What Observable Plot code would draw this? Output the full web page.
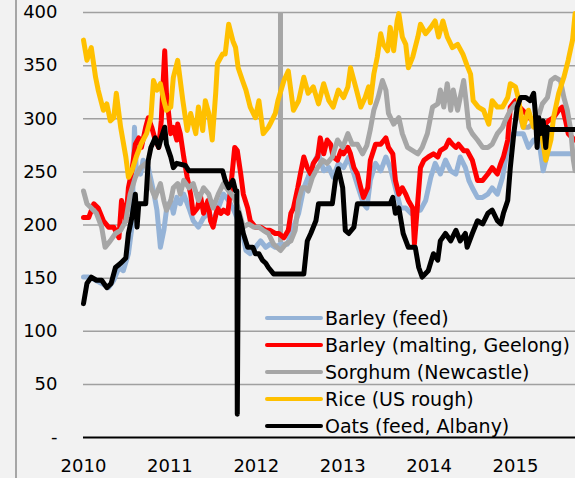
<!DOCTYPE html>
<html>
<head>
<meta charset="utf-8">
<script src="https://cdn.jsdelivr.net/npm/d3@7"></script>
<script src="https://cdn.jsdelivr.net/npm/@observablehq/plot@0.6"></script>
<style>
  html, body { margin: 0; padding: 0; background: #f2f2f2; }
  #chart { position: relative; width: 575px; height: 478px; overflow: hidden; background: #f2f2f2; }
  #chart svg { display: block; }
</style>
</head>
<body>
<div id="chart"></div>
<script>
// ---- Data (decimal year, price) ----
const yearTicks = [2010, 2011, 2012, 2013, 2014, 2015];
const valueTicks = [0, 50, 100, 150, 200, 250, 300, 350, 400];
const markerDate = 2012.28;
const markerRange = [183, 400];

const barleyFeed = [[2010.00,151],[2010.06,151],[2010.14,148],[2010.21,145],[2010.29,141],[2010.35,148],[2010.41,160],[2010.46,157],[2010.52,173],[2010.56,198],[2010.59,292],[2010.61,254],[2010.66,248],[2010.69,261],[2010.75,254],[2010.81,232],[2010.85,214],[2010.89,179],[2010.93,195],[2010.96,214],[2011.01,223],[2011.04,211],[2011.08,226],[2011.12,220],[2011.16,229],[2011.22,216],[2011.27,204],[2011.33,198],[2011.39,207],[2011.45,211],[2011.50,204],[2011.56,216],[2011.62,229],[2011.68,223],[2011.74,214],[2011.79,204],[2011.84,192],[2011.88,176],[2011.93,173],[2011.99,179],[2012.05,185],[2012.11,179],[2012.16,182],[2012.22,179],[2012.28,182],[2012.36,182],[2012.43,198],[2012.49,211],[2012.55,235],[2012.60,245],[2012.66,258],[2012.72,267],[2012.78,251],[2012.84,254],[2012.89,245],[2012.95,258],[2013.01,254],[2013.07,264],[2013.13,248],[2013.18,235],[2013.24,220],[2013.28,216],[2013.32,242],[2013.38,258],[2013.44,251],[2013.50,264],[2013.55,254],[2013.61,235],[2013.67,216],[2013.73,216],[2013.79,211],[2013.84,214],[2013.90,214],[2013.96,223],[2014.02,245],[2014.07,258],[2014.13,248],[2014.19,261],[2014.25,251],[2014.31,248],[2014.36,264],[2014.42,254],[2014.46,242],[2014.50,235],[2014.56,226],[2014.62,226],[2014.68,229],[2014.73,235],[2014.79,229],[2014.85,245],[2014.91,273],[2014.97,286],[2015.03,286],[2015.09,286],[2015.15,273],[2015.21,280],[2015.27,280],[2015.32,251],[2015.37,267],[2015.43,267],[2015.69,267]];

const barleyMalting = [[2010.00,207],[2010.06,207],[2010.12,220],[2010.17,216],[2010.23,204],[2010.29,198],[2010.35,198],[2010.41,188],[2010.44,223],[2010.49,204],[2010.52,235],[2010.56,251],[2010.60,276],[2010.64,282],[2010.67,273],[2010.72,292],[2010.75,301],[2010.79,292],[2010.83,280],[2010.87,273],[2010.90,298],[2010.94,364],[2010.96,324],[2011.01,286],[2011.04,292],[2011.08,280],[2011.09,295],[2011.12,286],[2011.16,264],[2011.20,245],[2011.24,229],[2011.27,211],[2011.32,216],[2011.35,229],[2011.39,211],[2011.44,223],[2011.47,204],[2011.50,198],[2011.55,216],[2011.59,211],[2011.62,214],[2011.67,211],[2011.70,232],[2011.75,273],[2011.78,270],[2011.82,248],[2011.85,229],[2011.90,216],[2011.93,204],[2011.99,198],[2012.05,198],[2012.11,195],[2012.16,195],[2012.22,192],[2012.26,192],[2012.32,188],[2012.37,195],[2012.40,211],[2012.43,216],[2012.48,235],[2012.51,248],[2012.55,264],[2012.59,254],[2012.63,248],[2012.66,258],[2012.71,264],[2012.74,282],[2012.78,267],[2012.82,280],[2012.86,276],[2012.89,264],[2012.94,261],[2012.98,270],[2013.01,267],[2013.06,273],[2013.09,267],[2013.13,254],[2013.17,248],[2013.21,235],[2013.24,226],[2013.29,235],[2013.32,261],[2013.38,276],[2013.44,276],[2013.50,282],[2013.53,273],[2013.58,267],[2013.61,242],[2013.65,229],[2013.69,235],[2013.73,229],[2013.76,223],[2013.81,216],[2013.83,182],[2013.87,223],[2013.90,254],[2013.94,261],[2013.99,264],[2014.05,267],[2014.10,264],[2014.13,270],[2014.19,273],[2014.23,280],[2014.27,276],[2014.31,273],[2014.34,276],[2014.40,270],[2014.44,270],[2014.50,261],[2014.56,242],[2014.62,242],[2014.68,248],[2014.73,254],[2014.79,248],[2014.83,258],[2014.86,264],[2014.91,280],[2014.94,311],[2015.00,317],[2015.06,310],[2015.12,305],[2015.17,300],[2015.23,300],[2015.31,292],[2015.38,298],[2015.44,301],[2015.50,308],[2015.54,311],[2015.58,298],[2015.61,286],[2015.66,282],[2015.69,280]];

const sorghum = [[2010.00,232],[2010.04,220],[2010.09,216],[2010.15,211],[2010.21,198],[2010.25,179],[2010.31,185],[2010.37,192],[2010.43,195],[2010.49,204],[2010.54,229],[2010.60,245],[2010.66,254],[2010.72,258],[2010.78,235],[2010.83,226],[2010.89,239],[2010.93,223],[2010.96,214],[2011.01,223],[2011.04,235],[2011.09,239],[2011.12,229],[2011.16,242],[2011.22,235],[2011.27,239],[2011.33,223],[2011.39,235],[2011.45,229],[2011.50,216],[2011.56,229],[2011.62,239],[2011.68,232],[2011.74,226],[2011.79,216],[2011.85,198],[2011.91,201],[2011.97,198],[2012.03,198],[2012.08,195],[2012.14,192],[2012.20,182],[2012.28,176],[2012.34,182],[2012.40,185],[2012.45,195],[2012.49,223],[2012.53,235],[2012.57,235],[2012.60,232],[2012.65,245],[2012.71,254],[2012.77,261],[2012.82,258],[2012.88,264],[2012.94,280],[2013.00,273],[2013.06,286],[2013.11,276],[2013.17,276],[2013.23,267],[2013.28,275],[2013.32,290],[2013.36,308],[2013.41,320],[2013.46,336],[2013.50,327],[2013.53,305],[2013.59,295],[2013.65,301],[2013.69,286],[2013.75,273],[2013.81,270],[2013.87,267],[2013.92,273],[2013.98,286],[2014.04,311],[2014.10,314],[2014.13,327],[2014.17,311],[2014.21,333],[2014.25,308],[2014.28,327],[2014.33,308],[2014.36,320],[2014.40,336],[2014.43,315],[2014.46,292],[2014.50,286],[2014.56,280],[2014.62,273],[2014.68,273],[2014.73,276],[2014.79,286],[2014.85,292],[2014.88,298],[2014.94,308],[2015.00,314],[2015.06,300],[2015.09,292],[2015.15,292],[2015.25,298],[2015.31,314],[2015.37,320],[2015.41,336],[2015.46,339],[2015.52,336],[2015.56,320],[2015.60,308],[2015.64,289],[2015.67,261],[2015.69,251]];

const riceUS = [[2010.00,374],[2010.04,355],[2010.09,367],[2010.14,339],[2010.17,327],[2010.23,308],[2010.27,314],[2010.31,298],[2010.35,301],[2010.38,324],[2010.43,292],[2010.49,264],[2010.52,245],[2010.56,251],[2010.61,264],[2010.67,277],[2010.73,286],[2010.78,301],[2010.81,336],[2010.85,327],[2010.89,333],[2010.93,317],[2010.96,308],[2011.01,311],[2011.04,339],[2011.09,355],[2011.15,317],[2011.20,289],[2011.24,305],[2011.30,286],[2011.33,311],[2011.38,289],[2011.41,317],[2011.45,305],[2011.49,280],[2011.53,324],[2011.55,352],[2011.61,361],[2011.64,361],[2011.68,389],[2011.73,373],[2011.76,367],[2011.79,348],[2011.84,336],[2011.88,327],[2011.93,311],[2011.99,301],[2012.03,317],[2012.08,286],[2012.14,292],[2012.16,295],[2012.22,305],[2012.25,317],[2012.32,336],[2012.37,345],[2012.43,308],[2012.49,317],[2012.55,339],[2012.60,324],[2012.66,330],[2012.72,314],[2012.78,333],[2012.84,317],[2012.89,311],[2012.95,327],[2013.01,320],[2013.06,330],[2013.09,348],[2013.15,330],[2013.21,311],[2013.26,320],[2013.30,330],[2013.32,315],[2013.36,342],[2013.40,358],[2013.44,380],[2013.47,370],[2013.52,364],[2013.55,386],[2013.59,364],[2013.63,392],[2013.65,399],[2013.69,377],[2013.73,370],[2013.76,348],[2013.81,358],[2013.87,377],[2013.90,389],[2013.96,380],[2014.02,386],[2014.07,392],[2014.11,377],[2014.16,392],[2014.21,377],[2014.27,367],[2014.33,370],[2014.39,361],[2014.44,350],[2014.48,342],[2014.51,317],[2014.57,311],[2014.63,308],[2014.69,295],[2014.73,317],[2014.79,311],[2014.85,311],[2014.91,320],[2014.94,333],[2015.00,330],[2015.03,320],[2015.09,292],[2015.15,308],[2015.21,292],[2015.29,292],[2015.35,261],[2015.41,280],[2015.44,301],[2015.50,324],[2015.56,339],[2015.61,355],[2015.66,374],[2015.69,399]];

const oatsAlbany = [[2010.00,126],[2010.04,145],[2010.09,151],[2010.15,148],[2010.21,148],[2010.27,141],[2010.32,145],[2010.37,160],[2010.43,164],[2010.49,169],[2010.52,192],[2010.56,207],[2010.60,229],[2010.62,198],[2010.64,220],[2010.72,220],[2010.75,261],[2010.78,273],[2010.83,282],[2010.87,273],[2010.90,282],[2010.94,292],[2010.96,276],[2011.01,264],[2011.04,254],[2011.08,258],[2011.18,256],[2011.22,251],[2011.61,251],[2011.64,242],[2011.68,235],[2011.73,242],[2011.76,232],[2011.775,232],[2011.78,22],[2011.795,212],[2011.82,204],[2011.85,192],[2011.90,179],[2011.96,179],[2011.99,173],[2012.03,173],[2012.07,167],[2012.11,164],[2012.14,160],[2012.20,154],[2012.55,154],[2012.59,185],[2012.63,192],[2012.69,204],[2012.72,220],[2012.88,220],[2012.92,245],[2012.95,253],[2013.00,235],[2013.03,195],[2013.07,192],[2013.13,198],[2013.17,220],[2013.55,220],[2013.58,226],[2013.61,211],[2013.65,216],[2013.70,192],[2013.76,179],[2013.84,179],[2013.88,160],[2013.92,151],[2013.99,157],[2014.05,173],[2014.10,167],[2014.13,185],[2014.19,192],[2014.25,185],[2014.31,195],[2014.36,185],[2014.42,192],[2014.44,179],[2014.50,192],[2014.56,204],[2014.62,201],[2014.68,211],[2014.73,214],[2014.79,204],[2014.83,201],[2014.86,211],[2014.91,223],[2014.94,254],[2014.98,286],[2015.02,311],[2015.06,320],[2015.12,320],[2015.17,317],[2015.21,324],[2015.23,305],[2015.25,273],[2015.27,301],[2015.29,286],[2015.32,298],[2015.35,273],[2015.37,292],[2015.38,290],[2015.69,290]];

const seriesNames = ["Barley (feed)", "Barley (malting, Geelong)", "Sorghum (Newcastle)", "Rice (US rough)", "Oats (feed, Albany)"];
const seriesColors = ["#95b3d7", "#ff0000", "#a6a6a6", "#ffc000", "#000000"];
const seriesData = [barleyFeed, barleyMalting, sorghum, riceUS, oatsAlbany];

// ---- Build ----
const W = 575, H = 478;
const xEnd = 2010 + 492 / 86.4;

const lineMarks = seriesData.map((arr, i) =>
  Plot.line(arr.map(([t, v]) => ({t, v})), {
    x: "t", y: "v",
    stroke: seriesColors[i], strokeWidth: 5,
    strokeLinejoin: "round", strokeLinecap: "round"
  })
);

const chart = Plot.plot({
  width: W, height: H,
  marginLeft: 83, marginRight: 0, marginTop: 12, marginBottom: 41,
  style: {background: "transparent", fontFamily: "DejaVu Sans", fontSize: "18px", color: "#000", overflow: "hidden"},
  x: {domain: [2010, xEnd], ticks: yearTicks, tickFormat: d => String(d), tickSize: 0, tickPadding: 22, label: null},
  y: {domain: [0, 400], ticks: valueTicks, tickFormat: d => d === 0 ? "-" : String(d), tickSize: 0, tickPadding: 26, label: null},
  marks: [
    Plot.ruleY(valueTicks.filter(d => d > 0), {stroke: "#a0a0a0", strokeWidth: 1.5}),
    Plot.ruleY([0], {stroke: "#000", strokeWidth: 2}),
    Plot.ruleX([{x: markerDate, y1: markerRange[0], y2: markerRange[1]}], {x: "x", y1: "y1", y2: "y2", stroke: "#a6a6a6", strokeWidth: 5}),
    ...lineMarks
  ]
});

document.getElementById("chart").appendChild(chart);

// frame border on the left and legend
const svg = d3.select(chart);
svg.insert("line", ":first-child")
  .attr("x1", 16).attr("x2", 16).attr("y1", 0).attr("y2", H)
  .attr("stroke", "#a6a6a6").attr("stroke-width", 2);

const lg = svg.append("g").attr("font-family", "DejaVu Sans").attr("font-size", 19).attr("text-anchor", "start");
seriesNames.forEach((name, i) => {
  const y = 318 + 27 * i;
  lg.append("line").attr("x1", 267).attr("x2", 321).attr("y1", y).attr("y2", y)
    .attr("stroke", seriesColors[i]).attr("stroke-width", 4).attr("stroke-linecap", "round");
  lg.append("text").attr("x", 325).attr("y", y).attr("dy", "0.37em").attr("fill", "#000")
    .attr("text-anchor", "start").text(name);
});
</script>
</body>
</html>
